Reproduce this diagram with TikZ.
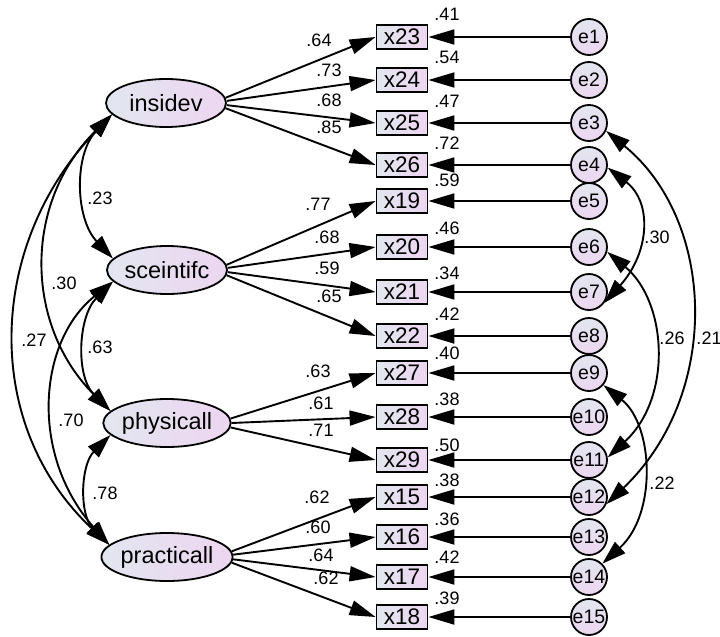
\documentclass[tikz,border=0pt]{standalone}
\usepackage{fontspec}
\setmainfont{Liberation Sans}
\usetikzlibrary{arrows.meta,shapes.geometric}
\definecolor{gl}{HTML}{E2E6EF}
\definecolor{gr}{HTML}{EDD6F1}
\begin{document}
\begin{tikzpicture}[x=1pt,y=-1pt,
  lat/.style={ellipse, draw, line width=1.8pt, minimum width=120pt, minimum height=48pt, inner sep=0pt, left color=gl, right color=gr, font=\fontsize{23.5}{23.5}\selectfont},
  obs/.style={rectangle, draw, line width=1.8pt, minimum width=51pt, minimum height=24pt, inner sep=0pt, left color=gl, right color=gr, font=\fontsize{22.5}{22.5}\selectfont},
  err/.style={circle, draw, line width=1.8pt, minimum size=36pt, inner sep=0pt, top color=gl, bottom color=gr, font=\fontsize{19.5}{19.5}\selectfont},
  coef/.style={font=\fontsize{18}{18}\selectfont, inner sep=0pt},
  arr/.style={-{Triangle[length=26pt,width=15pt]}, line width=1.9pt},
  cov/.style={{Triangle[length=24pt,width=15pt]}-{Triangle[length=24pt,width=15pt]}, line width=1.9pt},
]
\path[use as bounding box] (0,0) rectangle (720,637);

% latent variables
\node[lat] (insidev) at (166,103) {insidev};
\node[lat] (sceintifc) at (167,270) {sceintifc};
\node[lat] (physicall) at (167,423) {physicall};
\node[lat] (practicall) at (167,557) {practicall};

% observed variables
\foreach \n/\y in {x23/37, x24/80, x25/123, x26/165, x19/201, x20/247, x21/292, x22/336, x27/373, x28/417, x29/460, x15/497, x16/537, x17/577, x18/617}
  {\node[obs] (\n) at (402,\y) {\n};}

% error terms
\foreach \i/\y in {1/37, 2/80, 3/123, 4/165, 5/201, 6/247, 7/292, 8/336, 9/373, 10/417, 11/460, 12/497, 13/537, 14/577, 15/617}
  {\node[err] (e\i) at (589,\y) {e\i};}

% residual arrows
\foreach \i/\n in {1/x23, 2/x24, 3/x25, 4/x26, 5/x19, 6/x20, 7/x21, 8/x22, 9/x27, 10/x28, 11/x29, 12/x15, 13/x16, 14/x17, 15/x18}
  {\draw[arr] (e\i) -- (\n.east);}

% R squared labels
\foreach \i/\t/\y in {1/.41/14, 2/.54/57, 3/.47/101, 4/.72/143, 5/.59/180, 6/.46/228, 7/.34/273, 8/.42/314, 9/.40/353, 10/.38/399, 11/.50/445, 12/.38/480, 13/.36/519, 14/.42/557, 15/.39/598}
  {\node[coef] (r\i) at (447,\y) {\t};}

% loadings
\draw[arr] (insidev.5) -- (x23.west);
\draw[arr] (insidev.2) -- (x24.west);
\draw[arr] (insidev.-2) -- (x25.west);
\draw[arr] (insidev.-5) -- (x26.west);
\draw[arr] (sceintifc.5) -- (x19.west);
\draw[arr] (sceintifc.2) -- (x20.west);
\draw[arr] (sceintifc.-2) -- (x21.west);
\draw[arr] (sceintifc.-5) -- (x22.west);
\draw[arr] (physicall.4) -- (x27.west);
\draw[arr] (physicall.0) -- (x28.west);
\draw[arr] (physicall.-4) -- (x29.west);
\draw[arr] (practicall.5) -- (x15.west);
\draw[arr] (practicall.2) -- (x16.west);
\draw[arr] (practicall.-2) -- (x17.west);
\draw[arr] (practicall.-5) -- (x18.west);

\node[coef] (l1) at (319,40) {.64};
\node[coef] (l2) at (329,70) {.73};
\node[coef] (l3) at (329,100) {.68};
\node[coef] (l4) at (329,127) {.85};
\node[coef] (l5) at (318,204) {.77};
\node[coef] (l6) at (327,237) {.68};
\node[coef] (l7) at (327,268) {.59};
\node[coef] (l8) at (329,296) {.65};
\node[coef] (l9) at (318,371) {.63};
\node[coef] (l10) at (321,403) {.61};
\node[coef] (l11) at (321,430) {.71};
\node[coef] (l12) at (317,497) {.62};
\node[coef] (l13) at (318,527) {.60};
\node[coef] (l14) at (321,555) {.64};
\node[coef] (l15) at (326,578) {.62};

% latent covariances
\draw[cov] (insidev.192) .. controls +(-38,40) and +(-38,-40) .. (sceintifc.168);
\draw[cov] (insidev.192) .. controls +(-90,90) and +(-85,-85) .. (physicall.168);
\draw[cov] (insidev.192) .. controls +(-125,130) and +(-128,-120) .. (practicall.168);
\draw[cov] (sceintifc.192) .. controls +(-35,35) and +(-35,-35) .. (physicall.168);
\draw[cov] (sceintifc.192) .. controls +(-75,60) and +(-80,-90) .. (practicall.168);
\draw[cov] (physicall.192) .. controls +(-30,30) and +(-30,-30) .. (practicall.168);

\node[coef] (c1) at (100,198) {.23};
\node[coef] (c2) at (64,283) {.30};
\node[coef] (c3) at (34,340) {.27};
\node[coef] (c4) at (100,347) {.63};
\node[coef] (c5) at (71,420) {.70};
\node[coef] (c6) at (105,493) {.78};

% error covariances
\draw[cov] (e3.-25) .. controls +(110,90) and +(115,-110) .. (e12.-22);
\draw[cov] (e4.-8) .. controls +(45,35) and +(45,-50) .. (e7.-35);
\draw[cov] (e6.-15) .. controls +(60,50) and +(65,-60) .. (e11.8);
\draw[cov] (e9.-40) .. controls +(50,40) and +(55,-50) .. (e14.45);

\node[coef] (c7) at (709,338) {.21};
\node[coef] (c8) at (657,237) {.30};
\node[coef] (c9) at (672,338) {.26};
\node[coef] (c10) at (662,483) {.22};
\end{tikzpicture}
\end{document}
